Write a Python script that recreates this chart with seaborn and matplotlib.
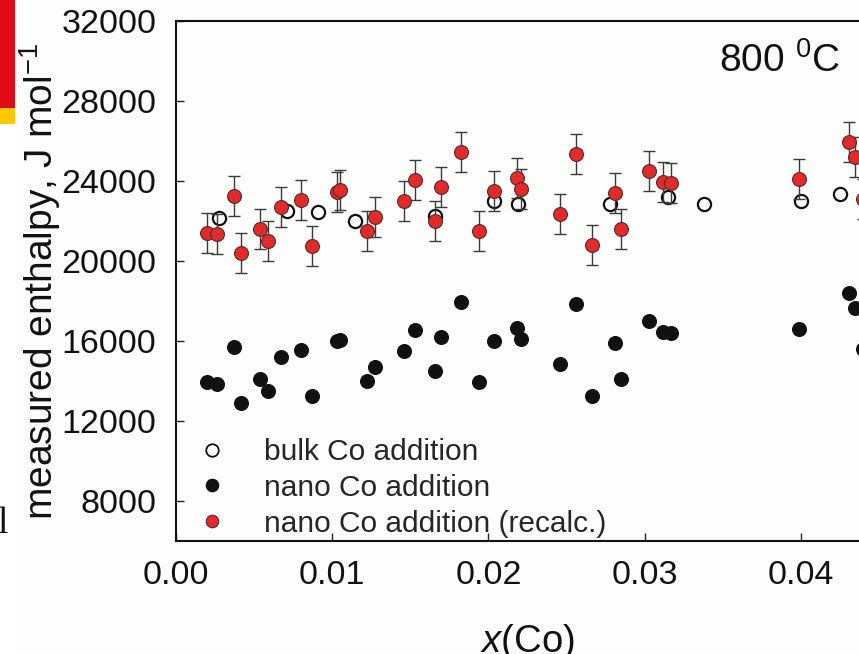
import matplotlib
matplotlib.use("Agg")
import matplotlib.pyplot as plt
import seaborn as sns
import pandas as pd
from matplotlib.patches import Rectangle
from matplotlib.lines import Line2D
from matplotlib.ticker import FormatStrFormatter

# ---------------- data ----------------
x_nano = [0.00200, 0.00260, 0.00371, 0.00418, 0.00538, 0.00589, 0.00670, 0.00800,
          0.00868, 0.01028, 0.01050, 0.01220, 0.01272, 0.01459, 0.01528, 0.01658,
          0.01698, 0.01826, 0.01937, 0.02037, 0.02180, 0.02210, 0.02460, 0.02558,
          0.02660, 0.02810, 0.02848, 0.03029, 0.03119, 0.03168, 0.03989, 0.04309,
          0.04346, 0.04400]
h_nano = [13930, 13850, 15720, 12920, 14080, 13480, 15180, 15550,
          13270, 16000, 16050, 14000, 14680, 15480, 16550, 14480,
          16220, 17950, 13970, 16000, 16630, 16100, 14850, 17870,
          13270, 15880, 14120, 16980, 16430, 16420, 16580, 18420,
          17670, 15600]
h_recalc = [21420, 21350, 23250, 20420, 21600, 21000, 22720, 23050,
            20770, 23470, 23550, 21500, 22200, 22980, 24050, 21980,
            23720, 25470, 21480, 23520, 24130, 23620, 22330, 25330,
            20780, 23380, 21620, 24480, 23930, 23920, 24080, 25930,
            25180, 23080]
err_recalc = [1000, 1000, 1000, 1000, 1000, 1000, 1000, 1000,
              1000, 1000, 1000, 1000, 1000, 1000, 1000, 1000,
              1000, 1000, 1000, 1000, 1000, 1000, 1000, 1000,
              1000, 1000, 1000, 1000, 1000, 1000, 1000, 1000,
              1000, 1000]
x_bulk = [0.00277, 0.00708, 0.00911, 0.01146, 0.01658, 0.02037,
          0.02189, 0.02778, 0.03151, 0.03379, 0.03998, 0.04250]
h_bulk = [22130, 22500, 22430, 22020, 22250, 23000,
          22850, 22850, 23180, 22850, 23000, 23330]

x_ticks = [0.00, 0.01, 0.02, 0.03, 0.04]
y_ticks = [8000, 12000, 16000, 20000, 24000, 28000, 32000]
series_labels = ["bulk Co addition", "nano Co addition", "nano Co addition (recalc.)"]
temp_label = "800 $^{0}$C"
x_label = "$x$(Co)"
y_label = "measured enthalpy, J mol$^{-1}$"

# ---------------- style ----------------
sns.set_theme(style="ticks")
plt.rcParams["font.family"] = ["Liberation Sans", "DejaVu Sans"]
plt.rcParams["mathtext.fontset"] = "custom"
plt.rcParams["mathtext.rm"] = "Liberation Sans"
plt.rcParams["mathtext.it"] = "Liberation Sans:italic"
plt.rcParams["mathtext.bf"] = "Liberation Sans:bold"

W, H = 859, 654
BG = "#fdfdfc"
RED = "#e12b2b"
fig = plt.figure(figsize=(W / 100, H / 100), dpi=100, facecolor=BG)

# page-crop decorations on the left
fig.patches.append(Rectangle((0, 0), 15 / W, 1, transform=fig.transFigure,
                             facecolor="white", edgecolor="none", zorder=0))
fig.patches.append(Rectangle((0, (H - 108) / H), 15 / W, 108 / H, transform=fig.transFigure,
                             facecolor="#e30a17", edgecolor="none", zorder=1))
fig.patches.append(Rectangle((0, (H - 124) / H), 15 / W, 16 / H, transform=fig.transFigure,
                             facecolor="#fcc800", edgecolor="none", zorder=1))
fig.text(-3 / W, (H - 533) / H, "l", family="Liberation Serif", fontsize=27,
         va="baseline", ha="left", color="#111111")

ax = fig.add_axes([176 / W, (H - 541) / H, 781.25 / W, 520 / H])
ax.set_facecolor("none")

df_bulk = pd.DataFrame({"x": x_bulk, "h": h_bulk})
df_nano = pd.DataFrame({"x": x_nano, "h": h_nano, "hr": h_recalc, "err": err_recalc})

sns.scatterplot(data=df_bulk, x="x", y="h", ax=ax, marker="o", s=90,
                color="white", edgecolor="#111111", linewidth=1.6, zorder=3, legend=False)
sns.scatterplot(data=df_nano, x="x", y="h", ax=ax, marker="o", s=100,
                color="#111111", edgecolor="#111111", linewidth=0.8, zorder=3, legend=False)
ax.errorbar(df_nano["x"], df_nano["hr"], yerr=df_nano["err"], fmt="none",
            ecolor="#3a3a3a", elinewidth=1.0, capsize=4, capthick=1.0, zorder=4)
sns.scatterplot(data=df_nano, x="x", y="hr", ax=ax, marker="o", s=100,
                color=RED, edgecolor="#5a2a2a", linewidth=0.8, zorder=5, legend=False)

ax.set_xlim(0, 0.05)
ax.set_ylim(6000, 32000)
ax.set_xticks(x_ticks)
ax.set_yticks(y_ticks)
ax.xaxis.set_major_formatter(FormatStrFormatter("%.2f"))
ax.tick_params(direction="in", length=6, width=1.0, labelsize=24.5, pad=14,
               color="#222222", labelcolor="#111111")
for s in ["left", "bottom", "top"]:
    ax.spines[s].set_linewidth(1.5)
    ax.spines[s].set_color("#111111")
ax.spines["right"].set_visible(False)

ax.set_xlabel(x_label, fontsize=27.5, color="#111111")
ax.xaxis.set_label_coords((527.5 - 176) / 781.25, -0.156)
ax.set_ylabel(y_label, fontsize=28, color="#111111")
ax.yaxis.set_label_coords((63 - 176) / 781.25, 0.5)

fig.text(719 / W, (H - 72) / H, temp_label, fontsize=28, ha="left", va="baseline",
         color="#111111")

handles = [
    Line2D([], [], linestyle="none", marker="o", markersize=9, markerfacecolor="white",
           markeredgecolor="#111111", markeredgewidth=1.3),
    Line2D([], [], linestyle="none", marker="o", markersize=9, markerfacecolor="#111111",
           markeredgecolor="#111111", markeredgewidth=0.8),
    Line2D([], [], linestyle="none", marker="o", markersize=9, markerfacecolor=RED,
           markeredgecolor="#5a2a2a", markeredgewidth=0.8),
]
ax.legend(handles, series_labels, loc="upper left",
          bbox_to_anchor=(197 / W, (H - 438) / H), bbox_transform=fig.transFigure,
          frameon=False, fontsize=21.5, handlelength=1.0, handletextpad=1.23,
          labelspacing=0.26, borderpad=0, borderaxespad=0)

fig.savefig("out.png", dpi=100, facecolor=BG)
